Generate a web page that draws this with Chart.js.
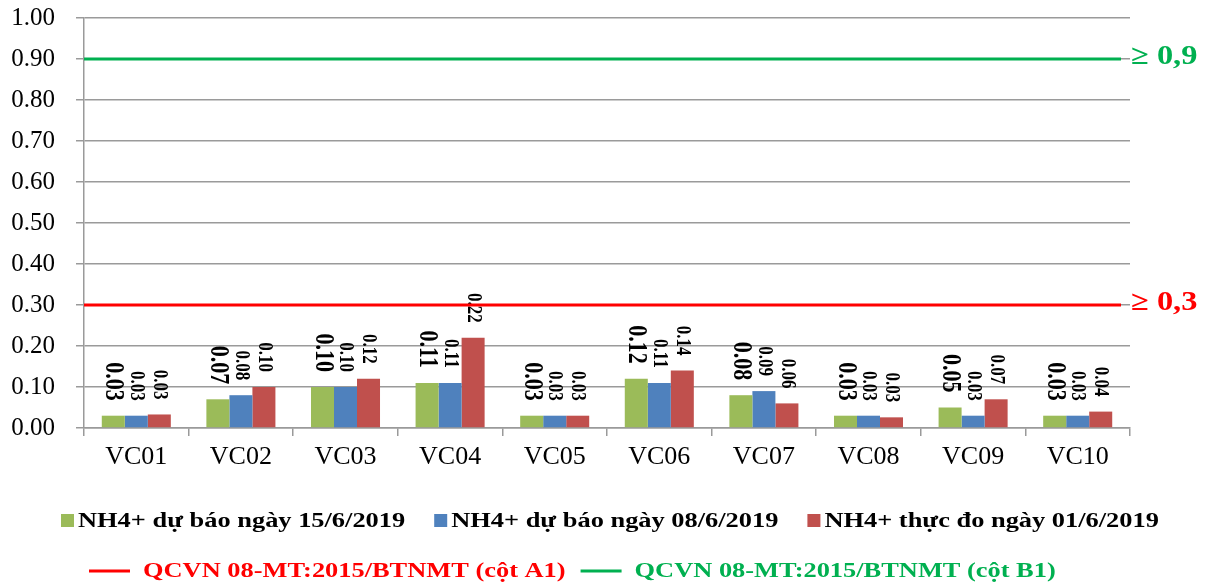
<!DOCTYPE html>
<html>
<head>
<meta charset="utf-8">
<script src="https://cdn.jsdelivr.net/npm/chart.js@4"></script>
<style>
  body { margin: 0; background: #fff; }
  #wrap { width: 1219px; height: 582px; }
</style>
</head>
<body>
<div id="wrap"><canvas id="myChart"></canvas></div>
<script>
// stations
const categories = ["VC01", "VC02", "VC03", "VC04", "VC05", "VC06", "VC07", "VC08", "VC09", "VC10"];
// NH4+ values (mg/l)
const forecast15 = [0.03, 0.07, 0.10, 0.11, 0.03, 0.12, 0.08, 0.03, 0.05, 0.03];
const forecast08 = [0.03, 0.08, 0.10, 0.11, 0.03, 0.11, 0.09, 0.03, 0.03, 0.03];
const measured01 = [0.033, 0.10, 0.12, 0.22, 0.03, 0.14, 0.06, 0.026, 0.07, 0.04];
const seriesNames = [
  "NH4+ dự báo ngày 15/6/2019",
  "NH4+ dự báo ngày 08/6/2019",
  "NH4+ thực đo ngày 01/6/2019",
];
// QCVN limits
const limitValues = [0.3, 0.9];
const limitTexts = ["≥ 0,3", "≥ 0,9"];
const limitNames = [
  "QCVN 08-MT:2015/BTNMT (cột A1)",
  "QCVN 08-MT:2015/BTNMT (cột B1)",
];

const barColors = ["#9bbb59", "#4f81bd", "#c0504d"];
const limitColors = ["#ff0000", "#00b050"];
const gridColor = "#9a9a9a";
const serif = "'Liberation Serif', 'Times New Roman', serif";
const stretch = 1.2; // text in the picture is a bit wide

function wideText(ctx, text, x, y) {
  ctx.save();
  ctx.translate(x, y);
  ctx.scale(stretch, 1);
  ctx.fillText(text, 0, 0);
  ctx.restore();
}

// vertical value labels over the bars
const barLabels = {
  id: "barLabels",
  afterDatasetsDraw(chart) {
    const ctx = chart.ctx;
    chart.data.datasets.forEach((ds, i) => {
      const meta = chart.getDatasetMeta(i);
      const size = i === 0 ? 22 : 17;
      meta.data.forEach((bar, j) => {
        ctx.save();
        ctx.font = "bold " + size + "px " + serif;
        ctx.fillStyle = "#000";
        ctx.textAlign = "right";
        ctx.textBaseline = "middle";
        ctx.translate(bar.x, bar.y - 15);
        ctx.rotate(Math.PI / 2);
        ctx.scale(1, stretch);
        ctx.fillText(ds.data[j].toFixed(2), 0, 0);
        ctx.restore();
      });
    });
  },
};

// QCVN limit lines with their marks at the right side
const limitLines = {
  id: "limitLines",
  afterDatasetsDraw(chart) {
    const ctx = chart.ctx;
    const area = chart.chartArea;
    const y = chart.scales.y;
    limitValues.forEach((v, i) => {
      const py = y.getPixelForValue(v);
      ctx.save();
      ctx.strokeStyle = limitColors[i];
      ctx.lineWidth = 3;
      ctx.beginPath();
      ctx.moveTo(area.left, py);
      ctx.lineTo(area.right - 9, py);
      ctx.stroke();
      ctx.font = "bold 27px " + serif;
      ctx.fillStyle = limitColors[i];
      ctx.textAlign = "left";
      ctx.textBaseline = "middle";
      wideText(ctx, limitTexts[i], area.right + 1, py - 2);
      ctx.restore();
    });
  },
};

// two row legend under the axis
const bottomLegend = {
  id: "bottomLegend",
  afterDraw(chart) {
    const ctx = chart.ctx;
    ctx.save();
    ctx.font = "bold 22px " + serif;
    ctx.textBaseline = "alphabetic";
    ctx.textAlign = "left";

    let x = 61;
    seriesNames.forEach((name, i) => {
      ctx.fillStyle = barColors[i];
      ctx.fillRect(x, 514, 13, 13);
      ctx.fillStyle = "#000";
      wideText(ctx, name, x + 17, 527);
      x += 17 + ctx.measureText(name).width * stretch + 29;
    });

    x = 89;
    limitNames.forEach((name, i) => {
      ctx.strokeStyle = limitColors[i];
      ctx.lineWidth = 3;
      ctx.beginPath();
      ctx.moveTo(x, 571);
      ctx.lineTo(x + 41, 571);
      ctx.stroke();
      ctx.fillStyle = limitColors[i];
      wideText(ctx, name, x + 54, 577);
      x += 54 + ctx.measureText(name).width * stretch + 15;
    });
    ctx.restore();
  },
};

const ctx1 = document.getElementById("myChart");

const chart1 = new Chart(ctx1, {
  type: "bar",
  data: {
    labels: categories,
    datasets: [
      { label: seriesNames[0], data: forecast15, backgroundColor: barColors[0] },
      { label: seriesNames[1], data: forecast08, backgroundColor: barColors[1] },
      { label: seriesNames[2], data: measured01, backgroundColor: barColors[2] },
    ],
  },
  options: {
    responsive: true,
    maintainAspectRatio: false,
    animation: false,
    categoryPercentage: 0.66,
    barPercentage: 1.0,
    layout: {
      padding: { top: 0, right: 89, left: 0, bottom: 0 },
    },
    plugins: {
      legend: { display: false },
      tooltip: { enabled: false },
    },
    scales: {
      x: {
        afterFit: function (scale) {
          scale.height = 154;
        },
        border: { color: gridColor, width: 1.5 },
        grid: {
          display: true,
          drawOnChartArea: false,
          color: gridColor,
          lineWidth: 1.5,
          tickLength: 8,
          offset: true,
        },
        ticks: {
          color: "#000",
          padding: 6,
          font: { family: serif, size: 26 },
        },
      },
      y: {
        min: 0,
        max: 1,
        afterFit: function (scale) {
          scale.width = 84;
          // keep the 1.00 line near the top edge
          scale.paddingTop = 18;
          scale.paddingBottom = 0;
        },
        border: { color: gridColor, width: 1.5 },
        grid: {
          color: gridColor,
          lineWidth: 1.5,
          tickLength: 8,
        },
        ticks: {
          stepSize: 0.1,
          color: "#000",
          padding: 21,
          font: { family: serif, size: 25 },
          callback: function (value) {
            return value.toFixed(2);
          },
        },
      },
    },
  },
  plugins: [barLabels, limitLines, bottomLegend],
});
</script>
</body>
</html>
